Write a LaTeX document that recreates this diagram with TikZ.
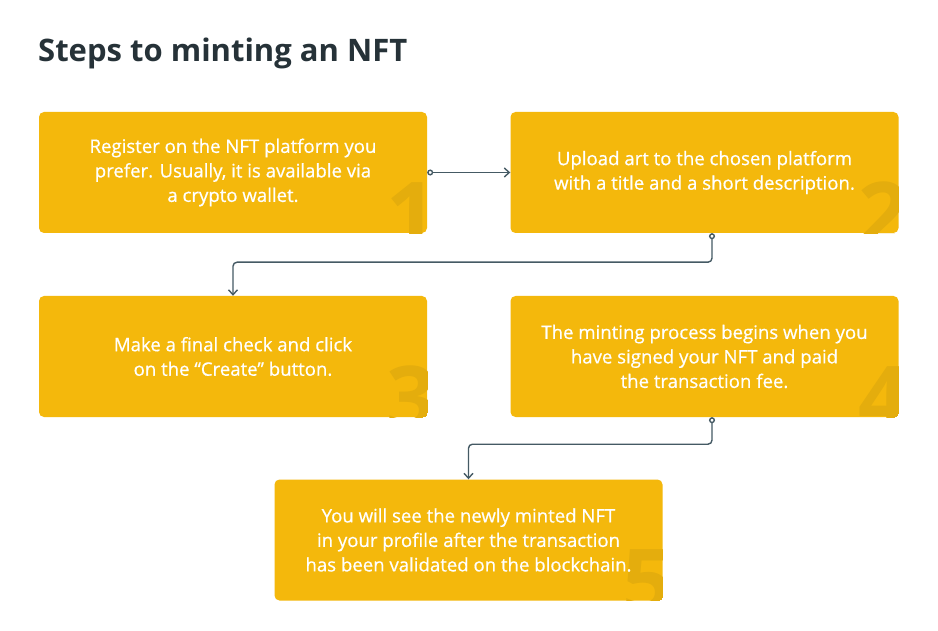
\documentclass[tikz,border=0pt]{standalone}
\usepackage{fontspec}
\setmainfont{Open Sans}
\newfontfamily\semib[FakeBold=0.6]{Open Sans}
\usetikzlibrary{arrows.meta,calc}
\definecolor{boxy}{HTML}{F4B80C}
\definecolor{numy}{HTML}{E4AD0D}
\definecolor{linec}{HTML}{455A64}
\definecolor{titlec}{HTML}{263238}
\begin{document}
\begin{tikzpicture}[x=1pt,y=-1pt,
  stepbox/.style={fill=boxy, rounded corners=5pt, minimum width=388pt, minimum height=121pt, inner sep=0pt},
  steptext/.style={text=white, align=center, inner sep=0pt, font=\semib\fontsize{18.6}{24.5}\selectfont},
  bignum/.style={text=numy, inner sep=0pt, font=\fontsize{88}{88}\selectfont\bfseries},
  conn/.style={draw=linec, line width=1.4pt, rounded corners=4pt,
    {Circle[open,length=6pt,width=6pt,fill=white]}-{Straight Barb[length=5pt,width=9pt]}}]
\useasboundingbox (0,0) rectangle (938,631);
\fill[white] (0,0) rectangle (938,631);
\node[anchor=base west, inner sep=0pt, text=titlec, font=\fontsize{31}{36}\selectfont\bfseries] (title) at (38,62) {Steps to minting an NFT};

\node[stepbox] (b1) at (233,172.5) {};
\node[stepbox] (b2) at (704.5,172.5) {};
\node[stepbox] (b3) at (233,356.5) {};
\node[stepbox] (b4) at (704.5,356.5) {};
\node[stepbox] (b5) at (468.5,540) {};

\foreach \b/\n in {b1/1,b2/2,b3/3,b4/4,b5/5}{
  \begin{scope}
    \clip[rounded corners=5pt] (\b.south west) rectangle (\b.north east);
    \node[bignum, anchor=base east] (n\n) at ($(\b.south east)+(10,12)$) {\n};
  \end{scope}
}

\node[steptext] (t1) at (b1) {Register on the NFT platform you\\prefer. Usually, it is available via\\a crypto wallet.};
\node[steptext] (t2) at (b2) {Upload art to the chosen platform\\with a title and a short description.};
\node[steptext] (t3) at (b3) {Make a final check and click\\on the “Create” button.};
\node[steptext] (t4) at (b4) {The minting process begins when you\\have signed your NFT and paid\\the transaction fee.};
\node[steptext] (t5) at (b5) {You will see the newly minted NFT\\in your profile after the transaction\\has been validated on the blockchain.};

\draw[conn] (b1.east) -- (b2.west);
\draw[conn] ($(b2.south)+(7.5,0)$) -- ++(0,29) -| (b3.north);
\draw[conn] ($(b4.south)+(7.5,0)$) -- ++(0,27) -| (b5.north);
\end{tikzpicture}
\end{document}
